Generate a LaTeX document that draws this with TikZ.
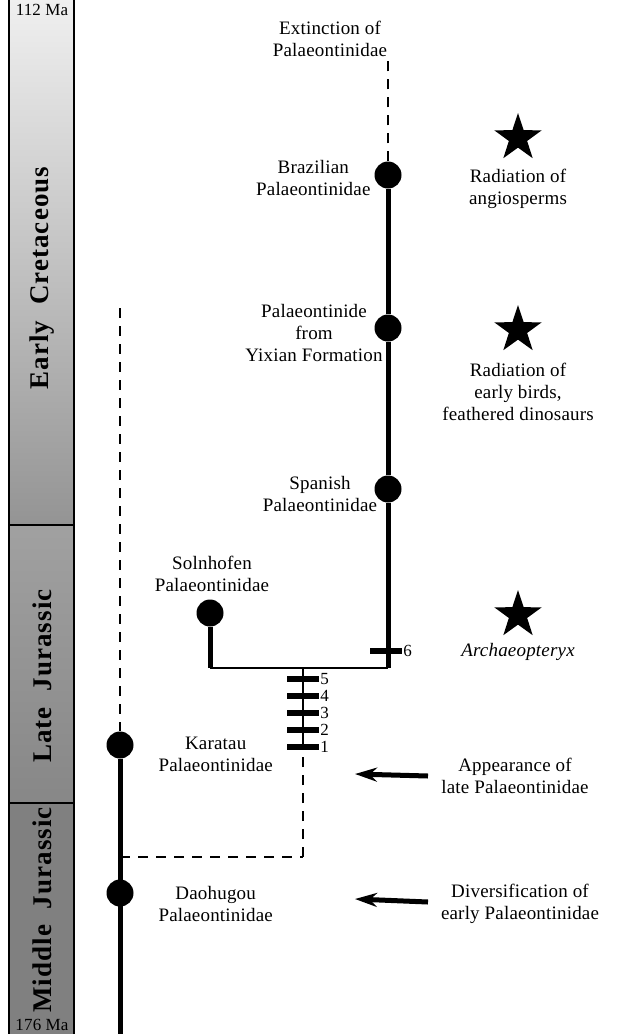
\documentclass[tikz,border=0pt]{standalone}
\usepackage{fontspec}
\setmainfont{Liberation Serif}[LetterSpace=1]
\newfontfamily\periodfont[LetterSpace=4]{Liberation Serif}
\usetikzlibrary{arrows.meta,shapes.geometric}

\begin{document}
\begin{tikzpicture}[x=1pt,y=-1pt,
    every node/.style={font=\fontsize{19}{22}\selectfont, align=center},
    dot/.style={circle,fill=black,inner sep=0pt,minimum size=27pt},
    tick/.style={rectangle,fill=black,inner sep=0pt,minimum width=32pt,minimum height=6pt},
    ticklab/.style={font=\fontsize{17}{17}\selectfont,inner sep=1pt},
    period/.style={rotate=90,font=\periodfont\bfseries\fontsize{27}{27}\selectfont},
    malab/.style={font=\fontsize{17}{17}\selectfont,inner sep=0pt},
    lin/.style={line width=5pt},
    ghost/.style={line width=2.5pt,dash pattern=on 10pt off 8pt},
    push/.style={line width=5pt,-{Stealth[length=22pt,width=14pt]}},
    starry/.style={star,star points=5,star point ratio=2.6,fill=black,inner sep=0pt,minimum size=50pt}]
    \useasboundingbox (0,0) rectangle (617,1034);

    % time column
    \shade[top color=black!6, bottom color=black!42] (9,0) rectangle (74,525);
    \shade[top color=black!37, bottom color=black!47] (9,525) rectangle (74,803);
    \fill[black!50] (9,803) rectangle (74,1034);
    \draw[line width=2pt] (9,0) -- (9,1034);
    \draw[line width=2pt] (74,0) -- (74,1034);
    \draw[line width=2pt] (9,525) -- (74,525);
    \draw[line width=2pt] (9,803) -- (74,803);
    \node[malab] (ma112) at (42,10) {112 Ma};
    \node[malab] (ma176) at (42,1025) {176 Ma};
    \node[period] (cret) at (42,278) {Early\ \ Cretaceous};
    \node[period] (ljur) at (42,676) {Late\ \ Jurassic};
    \node[period] (mjur) at (42,910) {Middle\ \ Jurassic};

    % early lineage
    \node[dot] (kar) at (120,745) {};
    \node[dot] (dao) at (120,893) {};
    \coordinate (kartop) at (120,308);
    \coordinate (base) at (120,1034);
    \coordinate (fork) at (120,857);
    \coordinate (corner) at (303,857);
    \draw[ghost] (kartop) -- (kar);
    \draw[lin] (kar) -- (base);
    \draw[ghost] (fork) -- (corner);

    % characters 1-5
    \node[tick,label={[ticklab]right:1}] (c1) at (303,747) {};
    \node[tick,label={[ticklab]right:2}] (c2) at (303,730) {};
    \node[tick,label={[ticklab]right:3}] (c3) at (303,713) {};
    \node[tick,label={[ticklab]right:4}] (c4) at (303,696) {};
    \node[tick,label={[ticklab]right:5}] (c5) at (303,679) {};
    \coordinate (node1) at (303,668);
    \draw[ghost] (corner) -- (c1);
    \draw[line width=2pt] (c1.center) -- (node1);

    % late lineages
    \node[dot] (sol) at (210,613) {};
    \node[dot] (spa) at (388,489) {};
    \node[dot] (yix) at (388,328) {};
    \node[dot] (bra) at (388,175) {};
    \coordinate (solbase) at (210,668);
    \coordinate (rbase) at (388,668);
    \coordinate (ext) at (388,60);
    \draw[line width=2pt] (solbase) -- (rbase);
    \draw[lin] (sol) -- (solbase);
    \draw[lin] (rbase) -- (spa) -- (yix) -- (bra);
    \draw[ghost] (bra) -- (ext);
    \node[tick,label={[ticklab]right:6}] (c6) at (386,651) {};

    % taxon labels
    \node (extlab) at (330,39) {Extinction of\\Palaeontinidae};
    \node[anchor=east] (bralab) at (374,178) {Brazilian\\Palaeontinidae};
    \node (yixlab) at (314,333) {Palaeontinide\\from\\Yixian Formation};
    \node (spalab) at (320,494) {Spanish\\Palaeontinidae};
    \node (sollab) at (212,574) {Solnhofen\\Palaeontinidae};
    \node[anchor=west] (karlab) at (155,754) {Karatau\\Palaeontinidae};
    \node[anchor=west] (daolab) at (155,904) {Daohugou\\Palaeontinidae};

    % events
    \node[starry] (st1) at (518,138) {};
    \node[starry] (st2) at (518,330) {};
    \node[starry] (st3) at (518,615) {};
    \node (ev1) at (518,189) {Radiation of\\angiosperms};
    \node (ev2) at (518,392) {Radiation of\\early birds,\\feathered dinosaurs};
    \node (ev3) at (518,652) {\itshape Archaeopteryx};
    \node (ev4) at (515,776) {Appearance of\\late Palaeontinidae};
    \node (ev5) at (520,904) {Diversification of\\early Palaeontinidae};
    \coordinate (a4s) at (428,776);
    \coordinate (a4) at (355,774);
    \coordinate (a5s) at (428,902);
    \coordinate (a5) at (355,899);
    \draw[push] (a4s) -- (a4);
    \draw[push] (a5s) -- (a5);
\end{tikzpicture}
\end{document}
